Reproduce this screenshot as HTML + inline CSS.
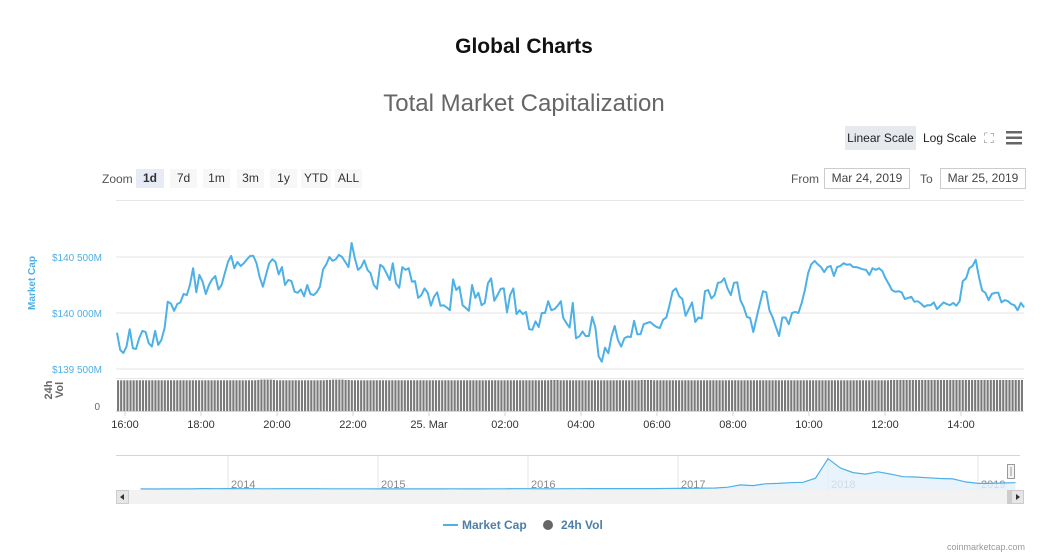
<!DOCTYPE html>
<html><head><meta charset="utf-8"><style>
body{margin:0;background:#fff;font-family:"Liberation Sans",sans-serif;width:1051px;height:558px;overflow:hidden;position:relative}
.abs{position:absolute}
.btn{position:absolute;top:169px;height:19px;background:#f7f7f7;font-size:12px;color:#333;text-align:center;line-height:19px}
.inp{position:absolute;top:168px;height:19px;border:1px solid #ccc;font-size:12px;color:#444;line-height:19px;text-align:center}
</style></head><body>
<div class="abs" style="left:0;width:1048px;top:35px;text-align:center;font-size:21px;font-weight:bold;color:#111">Global Charts</div>
<div class="abs" style="left:0;width:1048px;top:90px;text-align:center;font-size:24px;color:#666">Total Market Capitalization</div>
<div class="abs" style="left:845px;top:126px;width:71px;height:24px;background:#e6e9ee;font-size:12px;line-height:24px;text-align:center;color:#222">Linear Scale</div>
<div class="abs" style="left:923px;top:126px;height:24px;font-size:12px;line-height:24px;color:#222">Log Scale</div>
<div class="abs" style="left:984px;top:130px;font-size:14px;color:#999">⛶</div>
<svg class="abs" style="left:1006px;top:131px" width="16" height="14"><rect y="0" width="16" height="2.5" fill="#666"/><rect y="5.5" width="16" height="2.5" fill="#666"/><rect y="11" width="16" height="2.5" fill="#666"/></svg>
<div class="abs" style="left:102px;top:172px;font-size:12px;color:#555">Zoom</div>
<div class="btn" style="left:136px;width:28px;background:#e6ebf5;font-weight:bold">1d</div>
<div class="btn" style="left:170px;width:27px">7d</div>
<div class="btn" style="left:203px;width:27px">1m</div>
<div class="btn" style="left:237px;width:27px">3m</div>
<div class="btn" style="left:270px;width:27px">1y</div>
<div class="btn" style="left:301px;width:30px">YTD</div>
<div class="btn" style="left:335px;width:27px">ALL</div>
<div class="abs" style="left:791px;top:172px;font-size:12px;color:#555">From</div>
<div class="inp" style="left:824px;width:84px">Mar 24, 2019</div>
<div class="abs" style="left:920px;top:172px;font-size:12px;color:#555">To</div>
<div class="inp" style="left:940px;width:84px">Mar 25, 2019</div>
<div class="abs" style="right:26px;top:542px;font-size:9px;color:#999">coinmarketcap.com</div>
<svg id="chart" class="abs" style="left:0;top:0" width="1051" height="558"></svg>
<script>
const priceA=[-176,-330,-357,-300,-145,-315,-321,-225,-160,-170,-270,-300,-160,-285,-240,-135,100,85,20,80,95,170,160,250,400,185,340,280,170,250,300,330,210,250,355,455,510,400,455,420,445,480,510,510,445,320,235,340,445,480,455,345,410,250,295,285,190,180,210,150,250,170,160,185,235,390,435,500,465,480,520,500,455,410,625,490,385,410,470,385,355,250,215,430,410,355,295,445,265,225,410,385,400,280,285,135,160,220,180,65,145,185,65,70,50,25,300,205,235,70,45,20,250,135,180,70,90,265,310,110,160,215,220,5,160,220,-10,25,-10,10,-145,-150,-75,-125,0,0,105,25,35,65,105];
const priceB=[-40,-90,-130,90,-225,-210,-165,-205,-205,-35,-130,-385,-435,-310,-360,-210,-115,-240,-300,-225,-210,-215,-70,-190,-190,-100,-90,-80,-105,-125,-135,-60,-40,70,195,220,150,125,-25,35,95,-80,-40,-50,195,205,130,160,270,275,310,220,160,270,275,115,55,-35,-45,-170,-45,80,195,185,25,-40,-125,-205,-40,-40,-100,0,10,0,90,205,355,435,465,435,410,365,410,420,330,410,420,445,430,435,410,410,400,390,385,340,400,385,400,375,310,260,205,190,195,185,125,135,145,100,105,85,55,70,70,95,35,65,95,80,70,90,65,105,285,310,400,420,475,320,200,180,115,170,180,180,95,115,105,80,70,25,90,50];
// segment time ranges in hours after 16:00
const segA=[-0.21,11.47], segB=[11.53,23.66];
const yTicks=[139500,140000,140500];
const yTickLabels=["$139 500M","$140 000M","$140 500M"];
const xTickHours=[0,2,4,6,8,10,12,14,16,18,20,22];
const xTickLabels=["16:00","18:00","20:00","22:00","25. Mar","02:00","04:00","06:00","08:00","10:00","12:00","14:00"];
const volumes=[9.6,9.6,9.6,9.6,9.6,9.6,9.6,9.6,9.6,9.6,9.6,9.6,9.6,9.6,9.6,9.6,9.6,9.6,9.6,9.6,9.6,9.6,9.6,9.6,9.6,9.6,9.6,9.6,9.6,9.6,9.6,9.6,9.6,9.6,9.6,9.6,9.6,9.6,9.6,9.6,9.6,9.6,9.6,9.6,9.6,9.7,9.8,9.8,9.8,9.8,9.7,9.6,9.6,9.6,9.6,9.6,9.6,9.6,9.6,9.6,9.6,9.6,9.6,9.6,9.6,9.6,9.6,9.7,9.7,9.8,9.8,9.8,9.8,9.7,9.7,9.6,9.6,9.6,9.6,9.6,9.6,9.6,9.6,9.6,9.6,9.6,9.6,9.6,9.6,9.6,9.6,9.6,9.6,9.6,9.6,9.6,9.6,9.6,9.6,9.6,9.6,9.6,9.6,9.6,9.6,9.6,9.6,9.6,9.6,9.6,9.6,9.6,9.6,9.6,9.6,9.6,9.6,9.6,9.6,9.6,9.6,9.6,9.6,9.6,9.6,9.6,9.6,9.6,9.6,9.6,9.6,9.6,9.6,9.6,9.6,9.6,9.6,9.6,9.6,9.7,9.7,9.7,9.6,9.6,9.6,9.6,9.6,9.6,9.6,9.6,9.6,9.6,9.6,9.6,9.6,9.6,9.6,9.6,9.6,9.6,9.6,9.6,9.6,9.6,9.6,9.6,9.6,9.6,9.7,9.7,9.7,9.7,9.6,9.6,9.6,9.6,9.6,9.6,9.6,9.6,9.6,9.6,9.6,9.6,9.6,9.6,9.6,9.6,9.6,9.6,9.6,9.6,9.6,9.6,9.6,9.6,9.6,9.6,9.6,9.6,9.6,9.6,9.6,9.6,9.6,9.6,9.6,9.6,9.6,9.6,9.6,9.6,9.6,9.6,9.6,9.6,9.6,9.6,9.6,9.6,9.6,9.6,9.6,9.6,9.6,9.6,9.6,9.6,9.6,9.6,9.6,9.6,9.6,9.6,9.6,9.6,9.6,9.6,9.6,9.6,9.6,9.6,9.6,9.6,9.6,9.6,9.6,9.6,9.7,9.7,9.7,9.7,9.7,9.7,9.7,9.7,9.7,9.7,9.7,9.7,9.7,9.7,9.7,9.7,9.7,9.7,9.7,9.7,9.7,9.7,9.7,9.7,9.7,9.7,9.7,9.7,9.7,9.7,9.7,9.7,9.7,9.7,9.7,9.7,9.7,9.7,9.7,9.7,9.7,9.7,9.7];
const navValues=[1.5,1.2,1.4,1.7,2.2,10,9,10,8,7,6,7,8,8,7,6,5,5,4.5,3.5,3.5,3.5,3.3,3.4,3.3,4.4,3.6,3.6,4.5,5.7,6.8,7,6,6.5,7,8,10,10,9.5,9.8,10.6,11.8,14,17,19,25,28,47,110,90,140,150,170,180,290,810,560,440,400,460,400,330,320,300,280,270,190,150,150,160,170];
const navYears=["2014","2015","2016","2017","2018","2019"];

const svg=document.getElementById('chart');const NS='http://www.w3.org/2000/svg';
function mk(t,a,p){const e=document.createElementNS(NS,t);for(const k in a)e.setAttribute(k,a[k]);(p||svg).appendChild(e);return e;}
const X0=125,PXH=38;
const xScale=h=>X0+h*PXH;
const yScale=v=>313-(v-140000)*56/500;
const g=mk('g',{});
mk('line',{x1:116,x2:1024,y1:200.5,y2:200.5,stroke:'#e6e6e6'},g);
yTicks.forEach((t,i)=>{const y=yScale(t);
 mk('line',{x1:116,x2:1024,y1:y,y2:y,stroke:'#e6e6e6'},g);
 const tx=mk('text',{x:102,y:y+4,'text-anchor':'end','font-size':10,fill:'#4db0e7'});tx.textContent=yTickLabels[i];
 });
mk('line',{x1:116,x2:1024,y1:378.5,y2:378.5,stroke:'#e6e6e6'},g);
const yt=mk('text',{x:0,y:0,transform:'translate(35,283) rotate(-90)','text-anchor':'middle','font-size':10,'font-weight':'bold',fill:'#4db0e7'});yt.textContent='Market Cap';

const vt=mk('text',{x:0,y:0,transform:'translate(58,390) rotate(-90)','text-anchor':'middle','font-size':11,'font-weight':'bold',fill:'#666'});
mk('tspan',{x:0,dy:-6},vt).textContent='24h';mk('tspan',{x:0,dy:11},vt).textContent='Vol';

const z=mk('text',{x:100,y:410,'text-anchor':'end','font-size':10,fill:'#666'});z.textContent='0';

const vb=mk('g',{});
const vw=(1024-117)/volumes.length;
const vScale=v=>411-v*3.2;
volumes.forEach((v,i)=>{const r=mk('rect',{x:117+i*vw,y:vScale(v),width:Math.max(1,vw-1),height:411-vScale(v),fill:'#7a7a7a'},vb);
 });
mk('line',{x1:116,x2:1024,y1:411.5,y2:411.5,stroke:'#ccd6eb'});
xTickHours.forEach((h,i)=>{const x=xScale(h);if(x>1024)return;
 mk('line',{x1:x,x2:x,y1:411,y2:416,stroke:'#ccd6eb'});
 const t=mk('text',{x:x,y:428,'text-anchor':'middle','font-size':11,fill:'#333'});t.textContent=xTickLabels[i];
 });
function segPts(arr,seg){const n=arr.length;return arr.map((v,i)=>xScale(seg[0]+(seg[1]-seg[0])*i/(n-1)).toFixed(1)+','+yScale(140000+v).toFixed(1));}
const pts=segPts(priceA,segA).concat(segPts(priceB,segB));
const pl=mk('polyline',{points:pts.join(' '),fill:'none',stroke:'#4db0e7','stroke-width':2,'stroke-linejoin':'round'});

const ng=mk('g',{});
mk('line',{x1:116,x2:1020,y1:455.5,y2:455.5,stroke:'#ccd6eb'},ng);
navYears.forEach((y,i)=>{const x=228+i*150;mk('line',{x1:x,x2:x,y1:456,y2:490,stroke:'#e6e6e6'},ng);
 const t=mk('text',{x:x+3,y:488,'font-size':11,fill:'#888'},ng);t.textContent=y;
 });
const nx=i=>228+(i-7)*12.5, ny=v=>489-v/830*31;
const np=navValues.map((v,i)=>nx(i).toFixed(1)+','+ny(v).toFixed(1));
mk('polygon',{points:np.join(' ')+' '+nx(navValues.length-1)+',490 '+nx(0)+',490',fill:'#e3f0fa',opacity:0.8},ng);
const nl=mk('polyline',{points:np.join(' '),fill:'none',stroke:'#4db0e7','stroke-width':1.2},ng);

mk('rect',{x:1007.5,y:464.5,width:7,height:14,fill:'#f2f2f2',stroke:'#999'},ng);
mk('line',{x1:1011,x2:1011,y1:467,y2:476,stroke:'#999'},ng);
const sb=mk('g',{});
mk('rect',{x:116,y:490,width:908,height:14,fill:'#f2f2f2'},sb);
mk('rect',{x:1007,y:490,width:4,height:14,fill:'#ccc'},sb);
mk('rect',{x:116.5,y:490.5,width:12,height:13,fill:'#e6e6e6',stroke:'#ccc'},sb);
mk('rect',{x:1011.5,y:490.5,width:12,height:13,fill:'#e6e6e6',stroke:'#ccc'},sb);
mk('path',{d:'M124,494 L120,497 L124,500Z',fill:'#333'},sb);mk('path',{d:'M1016,494 L1020,497 L1016,500Z',fill:'#333'},sb);
const lg=mk('g',{});
mk('line',{x1:443,x2:458,y1:525,y2:525,stroke:'#4db0e7','stroke-width':2},lg);
const l1=mk('text',{x:462,y:529,'font-size':12,'font-weight':'bold',fill:'#4d7fa8'},lg);l1.textContent='Market Cap';
mk('circle',{cx:548,cy:525,r:5,fill:'#666'},lg);
const l2=mk('text',{x:561,y:529,'font-size':12,'font-weight':'bold',fill:'#4d7fa8'},lg);l2.textContent='24h Vol';
</script>
</body></html>
